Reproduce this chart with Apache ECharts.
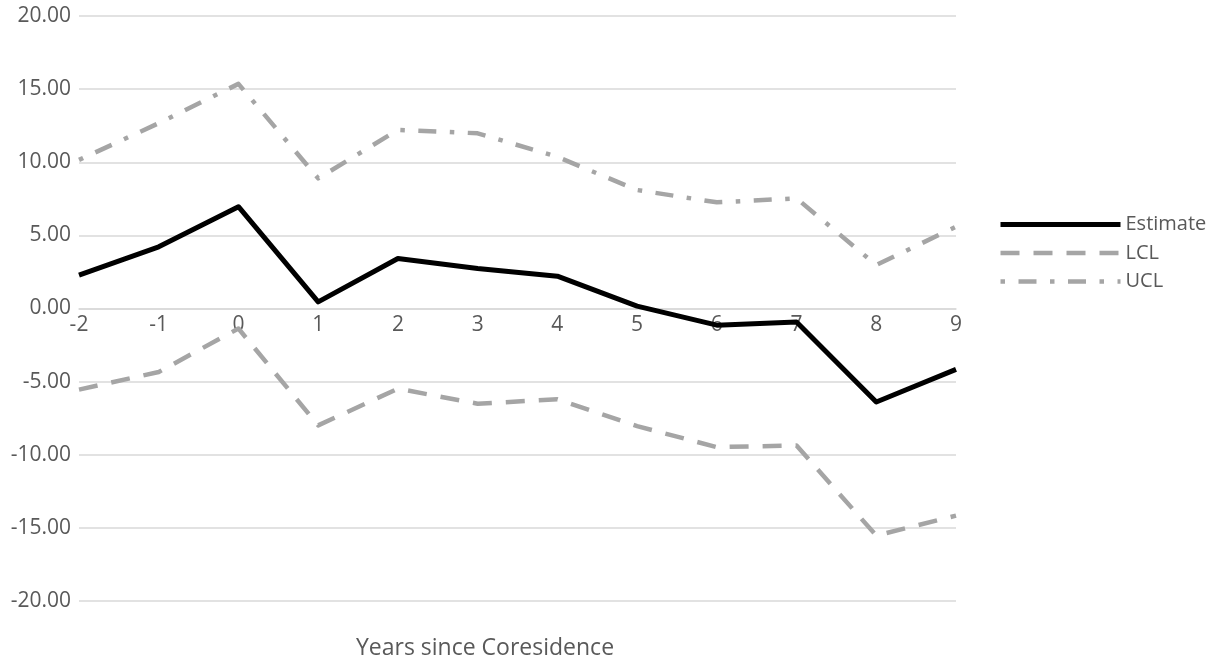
<!DOCTYPE html>
<html>
<head>
<meta charset="utf-8">
<script src="https://cdn.jsdelivr.net/npm/echarts@6/dist/echarts.min.js"></script>
<style>
  html, body { margin: 0; padding: 0; background: #ffffff; }
  #chart { width: 1221px; height: 662px; }
</style>
</head>
<body>
<div id="chart"></div>
<script>
// Years relative to the start of coresidence
const years = ['-2', '-1', '0', '1', '2', '3', '4', '5', '6', '7', '8', '9'];

// Point estimates with lower and upper confidence limits
const estimate = [2.28, 4.22, 6.96, 0.45, 3.42, 2.74, 2.21, 0.16, -1.14, -0.92, -6.39, -4.16];
const lcl = [-5.55, -4.34, -1.37, -7.99, -5.48, -6.51, -6.21, -8.04, -9.48, -9.36, -15.53, -14.16];
const ucl = [10.16, 12.67, 15.36, 8.90, 12.21, 11.98, 10.37, 8.10, 7.26, 7.53, 2.97, 5.59];

const yTicks = { min: -20, max: 20, step: 5 };

const FONT = '"Open Sans", "Noto Sans", sans-serif';
const TEXT = '#595959';
const GREY = '#A5A5A5';
const LW = 4.5;
const LW_EST = 5;

const GRID = { left: 79, right: 265, top: 16, bottom: 61 };
const plotHeight = 662 - GRID.top - GRID.bottom;
// lift the category axis from the bottom edge up to the zero line
const zeroLift = plotHeight * (yTicks.min / (yTicks.max - yTicks.min));

const chart = echarts.init(document.getElementById('chart'), null, { renderer: 'canvas' });

chart.setOption({
  backgroundColor: '#ffffff',
  animation: false,
  textStyle: { fontFamily: FONT },
  grid: Object.assign({ containLabel: false }, GRID),
  legend: {
    orient: 'vertical',
    left: 993,
    top: 209,
    itemWidth: 120,
    itemHeight: 14,
    itemGap: 7.5,
    itemStyle: { opacity: 0 },
    textStyle: { fontFamily: FONT, fontSize: 20, lineHeight: 21, color: TEXT },
    data: [
      { name: 'Estimate', lineStyle: { width: LW_EST } },
      { name: 'LCL', lineStyle: { width: LW } },
      { name: 'UCL', lineStyle: { width: LW } }
    ]
  },
  xAxis: {
    type: 'category',
    data: years,
    boundaryGap: false,
    position: 'bottom',
    offset: zeroLift,
    axisLine: { onZero: false, lineStyle: { color: '#D9D9D9', width: 1.5 } },
    axisTick: { show: false },
    axisLabel: { color: TEXT, fontSize: 21, fontFamily: FONT, margin: 6 },
    splitLine: { show: false }
  },
  yAxis: {
    type: 'value',
    min: yTicks.min,
    max: yTicks.max,
    interval: yTicks.step,
    axisLine: { show: false },
    axisTick: { show: false },
    axisLabel: {
      color: TEXT, fontSize: 21, fontFamily: FONT, margin: 8,
      formatter: v => v.toFixed(2)
    },
    splitLine: { lineStyle: { color: '#D9D9D9', width: 1.5 } }
  },
  graphic: [{
    type: 'text',
    style: {
      x: 485,
      y: 648,
      text: 'Years since Coresidence',
      font: '23px ' + FONT,
      fill: TEXT,
      align: 'center',
      verticalAlign: 'middle'
    }
  }],
  series: [
    {
      name: 'UCL', type: 'line', data: ucl, symbol: 'none', z: 2,
      lineStyle: { color: GREY, width: LW, type: [4.5, 13.5, 18, 13.5], cap: 'butt', join: 'round' },
      itemStyle: { color: GREY }
    },
    {
      name: 'LCL', type: 'line', data: lcl, symbol: 'none', z: 2,
      lineStyle: { color: GREY, width: LW, type: [19, 14], cap: 'butt', join: 'round' },
      itemStyle: { color: GREY }
    },
    {
      name: 'Estimate', type: 'line', data: estimate, symbol: 'none', z: 3,
      lineStyle: { color: '#000000', width: LW_EST, type: 'solid', join: 'round' },
      itemStyle: { color: '#000000' }
    }
  ]
});
</script>
</body>
</html>
